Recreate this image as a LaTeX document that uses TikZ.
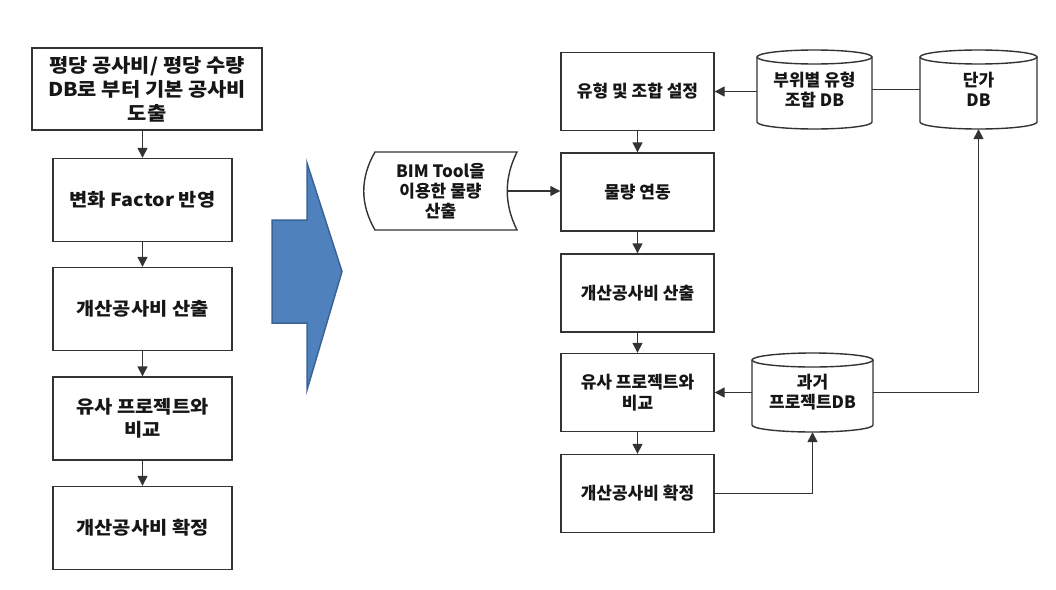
\documentclass[tikz,border=0pt]{standalone}
\usepackage{fontspec}
\setmainfont{Noto Sans CJK KR}
\newfontfamily\krwide[FakeStretch=1.1]{Noto Sans CJK KR}
\usetikzlibrary{arrows.meta,calc}
\definecolor{linec}{HTML}{333333}
\definecolor{txt}{HTML}{161616}
\definecolor{bluef}{HTML}{4F81BD}
\definecolor{blued}{HTML}{3B6396}
\newcommand\mycyl[6]{% name, cx, cy, half width, half height, text
  \pgfmathsetmacro\cxl{#2-#4}\pgfmathsetmacro\cxr{#2+#4}
  \pgfmathsetmacro\ctop{#3-#5+7}\pgfmathsetmacro\cbot{#3+#5-7}
  \pgfmathsetmacro\cbotb{#3+#5}\pgfmathsetmacro\cbotc{#3+#5-7+0.5523*7}
  \pgfmathsetmacro\cqa{#2-0.5523*#4}\pgfmathsetmacro\cqb{#2+0.5523*#4}
  \draw[conn, fill=white] (\cxl,\ctop) -- (\cxl,\cbot)
     .. controls (\cxl,\cbotc) and (\cqa,\cbotb) .. (#2,\cbotb)
     .. controls (\cqb,\cbotb) and (\cxr,\cbotc) .. (\cxr,\cbot) -- (\cxr,\ctop);
  \draw[conn, fill=white] (#2,\ctop) ellipse [x radius=#4, y radius=7];
  \node[cylnode, minimum width=2*#4 pt, minimum height=2*#5 pt] (#1) at (#2,#3) {#6};
}
\begin{document}
\begin{tikzpicture}[x=1pt,y=-1pt,
  conn/.style={draw=linec, line width=1.4pt},
  arr/.style={conn, -{Triangle[length=10pt,width=10pt]}},
  box/.style={draw=linec, line width=1.4pt, fill=white, rectangle, align=center,
    text=txt, inner sep=0pt, font=\bfseries\fontsize{17}{21}\selectfont},
  lbox/.style={box, minimum width=179pt, minimum height=83pt,
    font=\krwide\bfseries\fontsize{18}{23}\selectfont},
  rbox/.style={box, minimum width=153pt, minimum height=78pt},
  cylnode/.style={rectangle, align=center, text=txt, inner sep=0pt,
    font=\bfseries\fontsize{17}{20}\selectfont},
  ]
\fill[white] (0,0) rectangle (1056,589);
\useasboundingbox (0,0) rectangle (1056,589);

% left column
\node[lbox, minimum width=230pt, minimum height=82pt,
  font=\krwide\bfseries\fontsize{19}{24}\selectfont] (L1) at (147,89)
  {평당 공사비/ 평당 수량\\DB로 부터 기본 공사비\\도출};
\node[lbox] (L2) at (142.5,200) {변화 Factor 반영};
\node[lbox] (L3) at (142.5,309) {개산공사비 산출};
\node[lbox] (L4) at (142.5,418.5) {유사 프로젝트와\\비교};
\node[lbox] (L5) at (142.5,528) {개산공사비 확정};
\draw[arr] (L1.south -| L2) -- (L2.north);
\draw[arr] (L2.south) -- (L3.north);
\draw[arr] (L3.south) -- (L4.north);
\draw[arr] (L4.south) -- (L5.north);

% big blue arrow
\draw[fill=bluef, draw=blued, line width=1.5pt, line join=miter]
  (272,220) -- (307,220) -- (307,163) -- (342,271.5) -- (307,390) -- (307,323) -- (272,323) -- cycle;

% right column
\node[rbox] (R1) at (637.5,91.5) {유형 및 조합 설정};
\node[rbox] (R2) at (637.5,192) {물량 연동};
\node[rbox] (R3) at (637.5,293) {개산공사비 산출};
\node[rbox] (R4) at (637.5,392.5) {유사 프로젝트와\\비교};
\node[rbox] (R5) at (637.5,493.5) {개산공사비 확정};
\draw[arr] (R1.south) -- (R2.north);
\draw[arr] (R2.south) -- (R3.north);
\draw[arr] (R3.south) -- (R4.north);
\draw[arr] (R4.south) -- (R5.north);

% BIM stored-data shape
\draw[conn, fill=white] (375,152) -- (517,152)
  .. controls (504,178) and (504,204) .. (517,230) -- (375,230)
  .. controls (360,204) and (360,178) .. (375,152) -- cycle;
\node[cylnode, minimum width=133pt, minimum height=78pt] (bim) at (440.5,191)
  {BIM Tool을\\이용한 물량\\산출};
\draw[arr] (bim.east) -- (bim.east -| R2.west);

% databases
\mycyl{C1}{814.5}{89.5}{57.5}{39.5}{부위별 유형\\조합 DB}
\mycyl{C2}{978.5}{89.5}{58.5}{39.5}{단가\\DB}
\mycyl{C3}{812.5}{392.5}{60.5}{39.5}{과거\\프로젝트DB}

\draw[arr] (C1.west |- R1.east) -- (R1.east);
\draw[conn] (C2.west) -- (C1.east);
\draw[arr] (C3.west |- R4.east) -- (R4.east);
\draw[arr] (C3.east) -| (C2.south);
\draw[arr] (R5.east) -| (C3.south);
\end{tikzpicture}
\end{document}
